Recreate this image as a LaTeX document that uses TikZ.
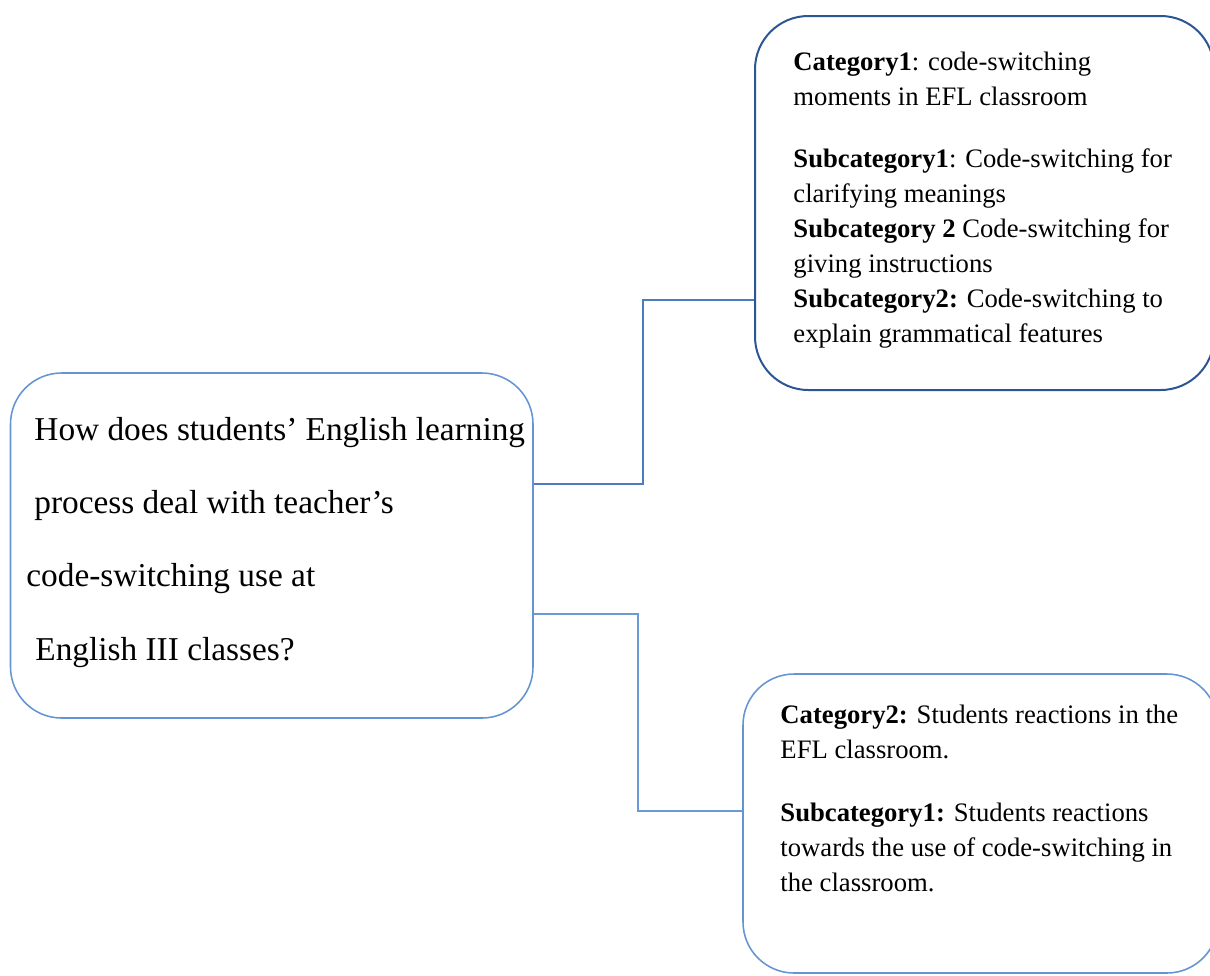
\documentclass[tikz,border=0pt]{standalone}
\usepackage{fontspec}
\setmainfont{Liberation Serif}
\usetikzlibrary{fit}
\definecolor{qblue}{HTML}{6495D2}
\definecolor{catblue}{HTML}{2C5593}
\definecolor{linkblue}{HTML}{4B7CC1}
\definecolor{linklight}{HTML}{6A9AD6}
\tikzset{
  qbox/.style={draw=qblue, line width=0.7pt, rounded corners=23pt, inner sep=0pt},
  catbox/.style={draw=catblue, line width=0.9pt, rounded corners=24pt, inner sep=0pt},
  link/.style={draw=linkblue, line width=1.2pt},
  linkb/.style={draw=linklight, line width=0.9pt},
  qline/.style={anchor=base west, inner sep=0pt, font=\fontsize{15}{18}\selectfont},
  catline/.style={anchor=base west, inner sep=0pt, font=\fontsize{12}{14}\selectfont},
}

\begin{document}
\begin{tikzpicture}[x=0.45pt, y=-0.45pt]
  % canvas measured in pixels of the reference
  \useasboundingbox (0,0) rectangle (1210,975);
  \clip (0,0) rectangle (1210,975);
  % boxes
  \node[qbox, fit={(10.5,373) (533,718)}] (question) {};
  \node[catbox, fit={(755,16) (1214,390)}] (cat1) {};
  \node[qbox, fit={(743,674) (1218,973)}] (cat2) {};
  % research question, double spaced
  \foreach \x/\y/\txt [count=\i] in {34/440/{How does students’ English learning},
      34/513/{process deal with teacher’s}, 26/586/{code-switching use at},
      35/660/{English III classes?}}
    \node[qline] (q\i) at (\x,\y) {\txt};
  % category 1
  \foreach \y/\txt [count=\i] in {70/{\textbf{Category1}: code-switching},
      105/{moments in EFL classroom},
      167/{\textbf{Subcategory1}: Code-switching for},
      202/{clarifying meanings},
      237/{\textbf{Subcategory 2} Code-switching for},
      272/{giving instructions},
      307/{\textbf{Subcategory2:} Code-switching to},
      342/{explain grammatical features}}
    \node[catline] (ca\i) at (793,\y) {\txt};
  % category 2
  \foreach \y/\txt [count=\i] in {723/{\textbf{Category2:} Students reactions in the},
      758/{EFL classroom.},
      821/{\textbf{Subcategory1:} Students reactions},
      856/{towards the use of code-switching in},
      891/{the classroom.}}
    \node[catline] (cb\i) at (780,\y) {\txt};
  % elbow connectors
  \coordinate (upa) at (0,484);
  \coordinate (upb) at (643,300);
  \coordinate (dna) at (0,614);
  \coordinate (dnb) at (638,811);
  \draw[link] (question.east |- upa) -| (upb) -- (cat1.west |- upb);
  \draw[linkb] (question.east |- dna) -| (dnb) -- (cat2.west |- dnb);
\end{tikzpicture}
\end{document}
